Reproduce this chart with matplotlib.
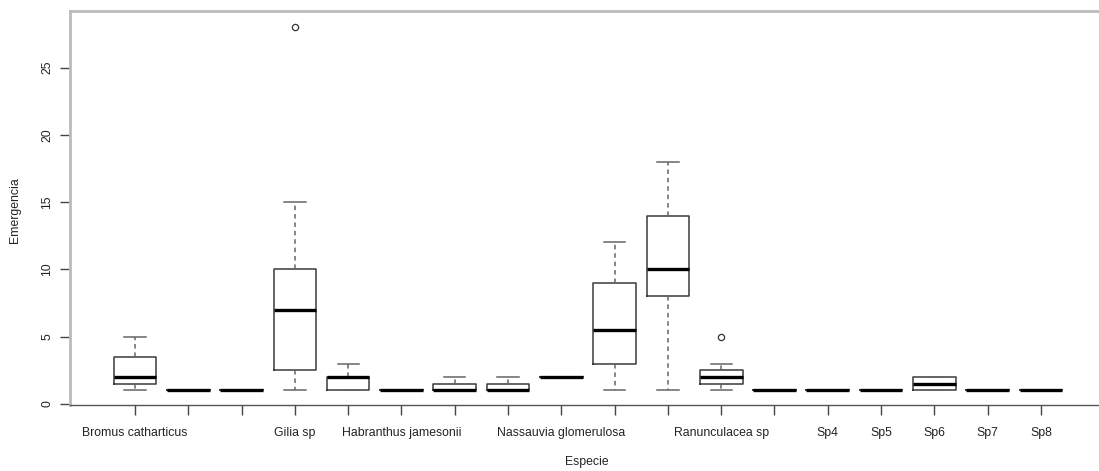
import matplotlib
matplotlib.use("Agg")
import matplotlib.pyplot as plt

plt.rcParams['font.family'] = ['Liberation Sans', 'DejaVu Sans']

# one entry per species level; empty names are levels whose label is not printed
especies = ['Bromus catharticus', '', '', 'Gilia sp', '', 'Habranthus jamesonii',
            '', '', 'Nassauvia glomerulosa', '', '', 'Ranunculacea sp', '',
            'Sp4', 'Sp5', 'Sp6', 'Sp7', 'Sp8']

# five-number summaries of emergence per species
whis_lo = [1, 1, 1, 1, 1, 1, 1, 1, 2, 1, 1, 1, 1, 1, 1, 1, 1, 1]
q1 = [1.5, 1, 1, 2.5, 1, 1, 1, 1, 2, 3, 8, 1.5, 1, 1, 1, 1, 1, 1]
mediana = [2, 1, 1, 7, 2, 1, 1, 1, 2, 5.5, 10, 2, 1, 1, 1, 1.5, 1, 1]
q3 = [3.5, 1, 1, 10, 2, 1, 1.5, 1.5, 2, 9, 14, 2.5, 1, 1, 1, 2, 1, 1]
whis_hi = [5, 1, 1, 15, 3, 1, 2, 2, 2, 12, 18, 3, 1, 1, 1, 2, 1, 1]
atipicos = [[], [], [], [28], [], [], [], [], [], [], [], [5], [], [], [], [], [], []]

stats = []
for i in range(len(especies)):
    stats.append(dict(whislo=whis_lo[i], q1=q1[i], med=mediana[i], q3=q3[i],
                      whishi=whis_hi[i], fliers=atipicos[i], label=especies[i]))

fig = plt.figure(figsize=(10.99, 4.71), dpi=100)
ax = fig.add_axes([70 / 1099, 1 - 405 / 471, 1 - 70 / 1099, (405 - 11) / 471])

pos = list(range(1, len(especies) + 1))
ax.bxp(stats, positions=pos, widths=0.8, capwidths=0.4,
       boxprops=dict(color='#3a3a3a', linewidth=1.1),
       medianprops=dict(color='black', linewidth=2.4),
       whiskerprops=dict(color='#666666', linewidth=1.1, linestyle=(0, (3, 2.5))),
       capprops=dict(color='#666666', linewidth=1.1),
       flierprops=dict(marker='o', markersize=4.5, markerfacecolor='none',
                       markeredgecolor='#333333', markeredgewidth=0.9))

ax.set_xlim(-0.22, 19.09)
ax.set_ylim(-0.08, 29.2)
ax.set_yticks([0, 5, 10, 15, 20, 25])
ax.set_yticklabels(['0', '5', '10', '15', '20', '25'], rotation=90, va='center')
ax.set_xticks(pos)
ax.set_xticklabels(especies)

ax.tick_params(axis='both', labelsize=8.8, length=7, color='#444444', width=1,
               labelcolor='#222222')
ax.tick_params(axis='y', pad=5)
ax.tick_params(axis='x', pad=9)

for side in ['top', 'left']:
    ax.spines[side].set_color('#bbbbbb')
    ax.spines[side].set_linewidth(2)
ax.spines['bottom'].set_color('#555555')
ax.spines['bottom'].set_linewidth(1)
ax.spines['right'].set_visible(False)

fig.text(587 / 1099, 1 - 462 / 471, 'Especie', ha='center', va='center',
         fontsize=8.8, color='#222222')
fig.text(15 / 1099, 1 - 210 / 471, 'Emergencia', ha='center', va='center',
         rotation=90, fontsize=8.8, color='#222222')

fig.savefig('out.png', dpi=100)
